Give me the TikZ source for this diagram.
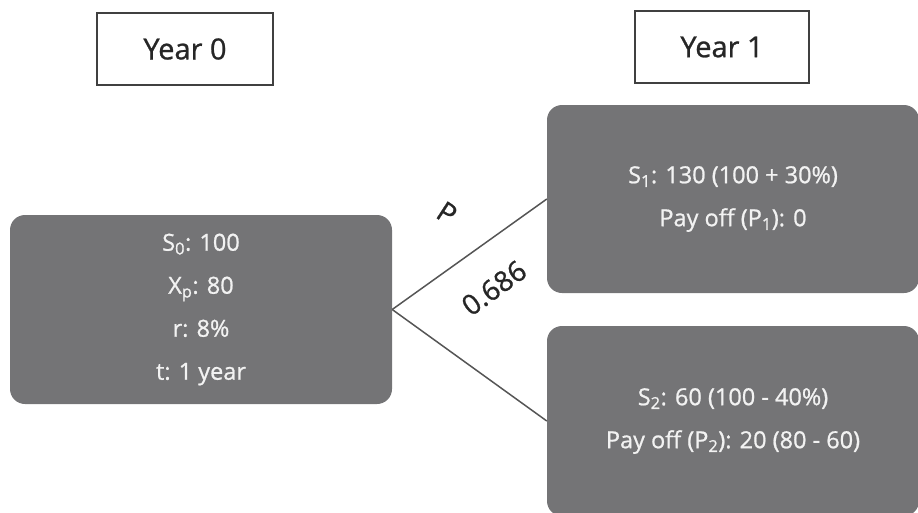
\documentclass[tikz,border=0pt]{standalone}
\usepackage{fontspec}
\setmainfont{Open Sans}
\newfontfamily\heavyfont{Open Sans}[FakeBold=0.9]
\definecolor{boxgray}{RGB}{116,116,118}
\definecolor{boxtext}{RGB}{242,242,242}
\definecolor{linegray}{RGB}{85,85,85}
\begin{document}
\begin{tikzpicture}[x=1pt,y=-1pt,
  yearbox/.style={draw=black!75, line width=1.4pt, fill=white, minimum height=72pt, inner sep=0pt,
    font=\heavyfont\fontsize{29}{32}\selectfont, text=black!85},
  statebox/.style={fill=boxgray, rounded corners=15pt, inner sep=0pt, align=center,
    text=boxtext, font=\heavyfont\fontsize{23.5}{43}\selectfont},
  branch/.style={draw=linegray, line width=1.5pt},
  problabel/.style={font=\heavyfont\fontsize{28}{30}\selectfont, text=black!85, inner sep=0pt}
]
\useasboundingbox (0,0) rectangle (918,512);
\clip (0,0) rectangle (918,512);
\node[yearbox, minimum width=176pt] (y0) at (185,49) {Year 0};
\node[yearbox, minimum width=174pt] (y1) at (722,47) {Year 1};
\node[statebox, minimum width=382pt, minimum height=189pt] (L) at (201,309.5)
  {S\textsubscript{0}: 100\\X\textsubscript{p}: 80\\r: 8\%\\t: 1 year};
\node[statebox, minimum width=372pt, minimum height=188pt] (T) at (733,199)
  {S\textsubscript{1}: 130 (100 + 30\%)\\Pay off (P\textsubscript{1}): 0};
\node[statebox, minimum width=372pt, minimum height=190pt] (B) at (733,421)
  {S\textsubscript{2}: 60 (100 - 40\%)\\Pay off (P\textsubscript{2}): 20 (80 - 60)};
\draw[branch] (L.east) -- (T.west);
\draw[branch] (L.east) -- (B.west);
\node[problabel, rotate=-33] (p) at (447,213) {P};
\node[problabel, rotate=36] (pv) at (494,288) {0.686};
\end{tikzpicture}
\end{document}
